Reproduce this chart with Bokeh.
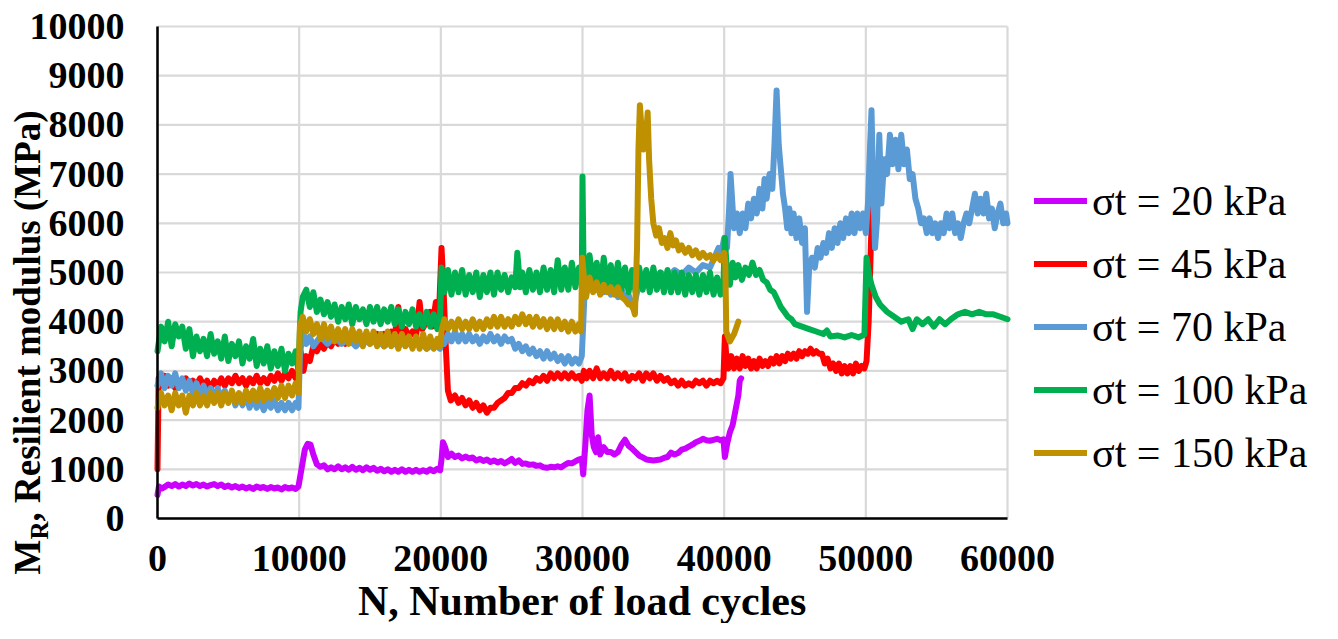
import math
from bokeh.plotting import figure
from bokeh.models import Range1d, FixedTicker, Label, Legend, LegendItem
from bokeh.embed import file_html
from bokeh.resources import INLINE

# ---------------- data: (N, MR in MPa) ----------------
SERIES_LABELS = ["σt = 20 kPa", "σt = 45 kPa", "σt = 70 kPa", "σt = 100 kPa", "σt = 150 kPa"]
SERIES_COLORS = ["#CC00FF", "#FF0000", "#5B9BD5", "#00B050", "#BF9000"]

X_TICKS = [0, 10000, 20000, 30000, 40000, 50000, 60000]
Y_TICKS = [0, 1000, 2000, 3000, 4000, 5000, 6000, 7000, 8000, 9000, 10000]

S20 = [(0,480),(100,650),(300,610),(500,640),(750,690),(1000,660),(1250,700),(1500,650),(1750,690),(2000,660),
       (2250,710),(2500,670),(2750,700),(3000,660),(3250,690),(3500,650),(3750,680),(4000,700),(4250,660),
       (4500,690),(4750,640),(5000,670),(5250,630),(5500,660),(5750,620),(6000,650),(6250,610),(6500,640),
       (6750,600),(7000,650),(7250,620),(7500,640),(7750,600),(8000,640),(8250,610),(8500,630),(8750,590),
       (9000,640),(9250,610),(9500,630),(9750,600),(9950,650),(10100,900),(10400,1400),(10600,1520),(10800,1500),
       (11000,1300),(11250,1100),(11500,1050),(11750,1080),(12000,1000),(12250,1040),(12500,1000),(12750,1060),
       (13000,1000),(13250,1040),(13500,990),(13750,1050),(14000,990),(14250,1030),(14500,980),(14750,1040),
       (15000,990),(15250,1030),(15500,970),(15750,1010),(16000,960),(16250,1000),(16500,950),(16750,990),
       (17000,950),(17250,1000),(17500,950),(17750,990),(18000,950),(18250,990),(18500,950),(18750,980),
       (19000,950),(19250,1000),(19500,960),(19750,1010),(19950,980),(20050,1200),(20150,1550),(20300,1450),
       (20500,1250),(20750,1320),(21000,1250),(21250,1280),(21500,1220),(21750,1260),(22000,1220),(22250,1240),
       (22500,1180),(22750,1210),(23000,1170),(23250,1200),(23500,1150),(23750,1180),(24000,1140),(24250,1170),
       (24500,1120),(24750,1160),(25000,1210),(25250,1130),(25500,1180),(25750,1110),(26000,1120),(26250,1090),
       (26500,1100),(26750,1070),(27000,1080),(27250,1040),(27500,1030),(27750,1050),(28000,1040),(28250,1060),
       (28500,1040),(28750,1090),(29000,1130),(29250,1120),(29500,1160),(29750,1200),(29950,1220),(30050,900),
       (30200,1500),(30350,2200),(30500,2500),(30650,1700),(30800,1450),(30950,1350),(31100,1650),(31250,1300),
       (31500,1450),(31750,1350),(32000,1350),(32250,1300),(32500,1350),(32750,1500),(33000,1600),(33250,1480),
       (33500,1420),(33750,1350),(34000,1280),(34250,1240),(34500,1200),(34750,1190),(35000,1180),(35250,1190),
       (35500,1200),(35750,1230),(36000,1250),(36250,1340),(36500,1300),(36750,1330),(37000,1400),(37250,1420),
       (37500,1460),(37750,1500),(38000,1550),(38250,1580),(38500,1620),(38750,1590),(39000,1580),(39250,1600),
       (39500,1620),(39750,1590),(39950,1610),(40050,1250),(40200,1500),(40400,1750),(40600,1900),(40800,2200),
       (41000,2500),(41100,2800),(41200,2850)]

S45 = [(0,1000),(80,2850),(250,2700),(500,2900),(750,2700),(1000,2850),(1250,2650),(1500,2800),(1750,2700),
       (2000,2850),(2250,2650),(2500,2800),(2750,2700),(3000,2850),(3250,2700),(3500,2800),(3750,2650),(4000,2800),
       (4250,2700),(4500,2850),(4750,2700),(5000,2850),(5250,2750),(5500,2900),(5750,2750),(6000,2850),(6250,2700),
       (6500,2850),(6750,2750),(7000,2900),(7250,2750),(7500,2850),(7750,2750),(8000,2900),(8250,2800),(8500,2950),
       (8750,2800),(9000,2950),(9250,2850),(9500,3000),(9750,2850),(9950,3000),(10100,3400),(10300,3000),
       (10500,3300),(10750,3200),(11000,3500),(11250,3400),(11500,3550),(11750,3450),(12000,3600),(12250,3500),
       (12500,3650),(12750,3550),(13000,3650),(13250,3550),(13500,3700),(13750,3600),(14000,3700),(14250,3600),
       (14500,3700),(14750,3600),(15000,3700),(15250,3650),(15500,3750),(15750,3650),(16000,3750),(16250,3650),
       (16500,3800),(16750,3700),(17000,4300),(17200,3750),(17500,3850),(17750,3700),(18000,3800),(18250,3700),
       (18500,4400),(18700,3850),(19000,4000),(19250,4200),(19400,3900),(19650,4400),(19850,4000),(20050,5500),
       (20200,4600),(20350,3500),(20500,2600),(20700,2400),(21000,2500),(21250,2350),(21500,2450),(21750,2300),
       (22000,2400),(22250,2250),(22500,2350),(22750,2200),(23000,2300),(23250,2150),(23500,2250),(23750,2250),
       (24000,2350),(24250,2400),(24500,2450),(24750,2550),(25000,2550),(25250,2650),(25500,2650),(25750,2750),
       (26000,2700),(26250,2800),(26500,2750),(26750,2850),(27000,2800),(27250,2900),(27500,2800),(27750,2950),
       (28000,2850),(28250,2950),(28500,2850),(28750,2950),(29000,2850),(29250,2950),(29500,2850),(29750,2900),
       (29950,2800),(30100,3000),(30300,2850),(30500,3000),(30750,2850),(31000,3050),(31250,2850),(31500,2950),
       (31750,2850),(32000,3000),(32250,2850),(32500,2950),(32750,2850),(33000,2950),(33250,2800),(33500,2900),
       (33750,2850),(34000,2950),(34250,2800),(34500,2950),(34750,2850),(35000,2950),(35250,2800),(35500,2900),
       (35750,2800),(36000,2850),(36250,2750),(36500,2800),(36750,2700),(37000,2800),(37250,2700),(37500,2750),
       (37750,2700),(38000,2800),(38250,2750),(38500,2800),(38750,2700),(39000,2800),(39250,2750),(39500,2800),
       (39750,2750),(39950,2850),(40050,3700),(40150,3300),(40300,3050),(40500,3300),(40700,3050),(40900,3250),
       (41100,3050),(41300,3300),(41500,3100),(41700,3250),(41900,3050),(42100,3200),(42300,3050),(42500,3250),
       (42700,3100),(42900,3200),(43100,3100),(43300,3250),(43500,3150),(43700,3300),(43900,3150),(44100,3300),
       (44300,3200),(44500,3350),(44700,3250),(44900,3350),(45100,3250),(45300,3400),(45500,3300),(45700,3400),
       (45900,3350),(46100,3450),(46300,3350),(46500,3400),(46700,3350),(46900,3350),(47100,3150),(47300,3250),
       (47500,3050),(47700,3150),(47900,3000),(48100,3150),(48300,2950),(48500,3100),(48700,2950),(48900,3100),
       (49100,2950),(49300,3150),(49500,3000),(49700,3100),(49900,3050),(50050,3200),(50200,4000),(50350,5500),
       (50450,6300),(50550,5800),(50650,7200)]

S70 = [(0,2700),(250,2950),(500,2650),(750,2900),(1000,2700),(1250,2950),(1500,2650),(1750,2850),(2000,2600),
       (2250,2800),(2500,2550),(2750,2750),(3000,2500),(3250,2700),(3500,2500),(3750,2650),(4000,2450),(4250,2650),
       (4500,2400),(4750,2600),(5000,2400),(5250,2550),(5500,2300),(5750,2500),(6000,2300),(6250,2500),(6500,2250),
       (6750,2450),(7000,2250),(7250,2400),(7500,2200),(7750,2400),(8000,2250),(8250,2400),(8500,2200),(8750,2350),
       (9000,2200),(9250,2350),(9500,2200),(9750,2350),(9950,2250),(10050,3300),(10250,3800),(10500,3550),
       (10750,3700),(11000,3500),(11500,3700),(12000,3550),(12500,3700),(13000,3550),(13500,3650),(14000,3500),
       (14500,3650),(15000,3550),(15500,3650),(16000,3500),(16500,3600),(17000,3500),(17500,3600),(18000,3500),
       (18500,3600),(19000,3450),(19500,3550),(19950,3450),(20050,3700),(20250,3550),(20500,3750),(20750,3600),
       (21000,3800),(21250,3600),(21500,3750),(21750,3600),(22000,3750),(22250,3600),(22500,3700),(22750,3550),
       (23000,3700),(23250,3600),(23500,3750),(23750,3600),(24000,3700),(24250,3550),(24500,3700),(24750,3600),
       (25000,3650),(25250,3450),(25500,3550),(25750,3400),(26000,3500),(26250,3350),(26500,3450),(26750,3300),
       (27000,3400),(27250,3250),(27500,3400),(27750,3250),(28000,3350),(28250,3200),(28500,3300),(28750,3150),
       (29000,3300),(29250,3150),(29500,3250),(29750,3150),(29950,3300),(30150,4600),(30300,4900),(30500,4700),
       (30750,4850),(31000,4650),(31250,4800),(31500,4600),(31750,4750),(32000,4550),(32250,4700),(32500,4500),
       (32750,4650),(33000,4450),(33250,4550),(33500,4300),(33700,4400),(34000,4800),(34500,5000),(35000,4850),
       (35500,5000),(36000,4900),(36500,5050),(37000,4950),(37500,5100),(38000,5000),(38500,5150),(39000,5100),
       (39300,5300),(39600,5500),(39800,5400),(40000,5700),(40200,5500),(40350,6300),(40450,7000),(40600,6300),
       (40700,5900),(40900,6200),(41100,5800),(41300,6200),(41500,5900),(41700,6400),(41900,6100),(42100,6500),
       (42300,6200),(42500,6700),(42700,6300),(42850,6900),(43000,6500),(43200,7000),(43400,6700),(43550,7600),
       (43700,8700),(43850,7600),(44000,7100),(44150,6600),(44300,6300),(44450,5900),(44600,6300),(44750,5800),
       (44900,6200),(45100,5700),(45300,6100),(45500,5600),(45700,5900),(45850,4200),(46000,5100),(46200,5300),
       (46400,5100),(46600,5500),(46800,5300),(47000,5600),(47200,5400),(47400,5800),(47600,5500),(47800,5900),
       (48000,5600),(48200,6000),(48400,5700),(48600,6100),(48800,5800),(49000,6200),(49200,5800),(49400,6200),
       (49600,5900),(49800,6200),(50000,5800),(50150,6400),(50300,7600),(50400,8300),(50500,7000),(50650,5500),
       (50800,6100),(50950,7800),(51100,6400),(51300,7300),(51500,7000),(51700,7800),(51900,7200),(52100,7700),
       (52300,7100),(52500,7800),(52700,7200),(52900,7500),(53100,6900),(53300,7000),(53500,6500),(53700,6300),
       (53900,6000),(54100,6100),(54300,5800),(54500,6100),(54700,5800),(54900,6000),(55100,5700),(55300,6000),
       (55500,5800),(55700,6200),(55900,5900),(56100,6200),(56300,5800),(56500,6000),(56700,5700),(56900,6000),
       (57100,6200),(57300,6000),(57500,6300),(57700,6600),(57900,6200),(58100,6500),(58300,6200),(58500,6600),
       (58700,6100),(58900,6300),(59100,5900),(59300,6200),(59500,6400),(59700,6000),(59900,6200),(60000,6000)]

S100 = [(0,3400),(250,3900),(500,3600),(750,4000),(1000,3500),(1250,3950),(1500,3700),(1750,3900),(2000,3450),
        (2250,3850),(2500,3300),(2750,3700),(3000,3400),(3250,3650),(3500,3300),(3750,3750),(4000,3350),(4250,3600),
        (4500,3250),(4750,3700),(5000,3200),(5250,3550),(5500,3300),(5750,3600),(6000,3150),(6250,3500),(6500,3250),
        (6750,3650),(7000,3100),(7250,3450),(7500,3150),(7750,3500),(8000,3050),(8250,3400),(8500,3100),(8750,3450),
        (9000,3000),(9250,3350),(9500,3150),(9750,3400),(9950,3000),(10100,4200),(10250,4500),(10500,4650),
        (10750,4300),(11000,4600),(11250,4200),(11500,4450),(11750,4150),(12000,4400),(12250,4100),(12500,4350),
        (12750,4000),(13000,4300),(13250,4050),(13500,4350),(13750,3950),(14000,4300),(14250,4050),(14500,4250),
        (14750,3950),(15000,4300),(15250,4000),(15500,4300),(15750,3950),(16000,4250),(16250,4000),(16500,4300),
        (16750,3950),(17000,4250),(17250,3900),(17500,4200),(17750,3950),(18000,4250),(18250,3900),(18500,4150),
        (18750,3900),(19000,4200),(19250,3900),(19500,4150),(19750,3850),(19950,4100),(20050,5100),(20250,4600),
        (20500,5050),(20750,4550),(21000,5000),(21250,4600),(21500,5050),(21750,4550),(22000,4950),(22250,4600),
        (22500,5000),(22750,4500),(23000,4950),(23250,4600),(23500,5000),(23750,4550),(24000,5000),(24250,4650),
        (24500,4950),(24750,4600),(25000,4900),(25250,4700),(25400,5400),(25600,4700),(25750,5000),(26000,4600),
        (26250,5050),(26500,4650),(26750,5000),(27000,4600),(27250,5100),(27500,4650),(27750,5050),(28000,4600),
        (28250,5250),(28500,4650),(28750,5100),(29000,4650),(29250,5200),(29500,4700),(29750,5100),(29950,4800),
        (30000,6950),(30080,5000),(30250,4600),(30500,5350),(30750,4700),(31000,5200),(31250,4650),(31500,5300),
        (31750,4700),(32000,5150),(32250,4650),(32500,5200),(32750,4650),(33000,5100),(33250,4600),(33500,5050),
        (33750,4600),(34000,5100),(34250,4650),(34500,5050),(34750,4600),(35000,5100),(35250,4650),(35500,5000),
        (35750,4600),(36000,5050),(36250,4600),(36500,5000),(36750,4600),(37000,5000),(37250,4550),(37500,4950),
        (37750,4600),(38000,4950),(38250,4550),(38500,4950),(38750,4600),(39000,5000),(39250,4550),(39500,4900),
        (39750,4550),(39950,4800),(40050,5700),(40200,5000),(40400,4750),(40600,5200),(40800,4900),(41000,5150),
        (41250,4850),(41500,5100),(41750,4950),(42000,5200),(42250,4950),(42500,5050),(42750,4850),(43000,4800),
        (43250,4650),(43500,4600),(43750,4450),(44000,4300),(44250,4200),(44500,4100),(44750,4050),(45000,3950),
        (45500,3900),(46000,3850),(46500,3800),(47000,3750),(47250,3820),(47500,3700),(48000,3720),(48500,3680),
        (49000,3730),(49500,3680),(49900,3740),(50050,5300),(50200,5000),(50400,4750),(50700,4500),(51000,4350),
        (51500,4200),(52000,4100),(52500,4000),(53000,4050),(53300,3850),(53600,4050),(54000,3950),(54400,4050),
        (54800,3900),(55200,4050),(55600,3950),(56000,4050),(56500,4150),(57000,4200),(57500,4150),(58000,4200),
        (58500,4150),(59000,4150),(59500,4100),(60000,4050)]

S150 = [(0,2250),(250,2550),(500,2300),(750,2500),(1000,2200),(1250,2550),(1500,2300),(1750,2500),(2000,2150),
        (2250,2500),(2500,2300),(2750,2550),(3000,2300),(3250,2500),(3500,2300),(3750,2550),(4000,2350),(4250,2550),
        (4500,2300),(4750,2550),(5000,2350),(5250,2600),(5500,2350),(5750,2550),(6000,2350),(6250,2600),(6500,2400),
        (6750,2600),(7000,2400),(7250,2650),(7500,2400),(7750,2600),(8000,2450),(8250,2650),(8500,2450),(8750,2700),
        (9000,2450),(9250,2700),(9500,2500),(9750,2750),(9950,2550),(10050,3900),(10250,4100),(10500,3800),
        (10750,4050),(11000,3750),(11250,3950),(11500,3650),(11750,3950),(12000,3650),(12250,3900),(12500,3600),
        (12750,3850),(13000,3600),(13250,3850),(13500,3550),(13750,3850),(14000,3600),(14250,3800),(14500,3500),
        (14750,3800),(15000,3550),(15250,3800),(15500,3500),(15750,3750),(16000,3500),(16250,3800),(16500,3500),
        (16750,3750),(17000,3450),(17250,3750),(17500,3500),(17750,3700),(18000,3450),(18250,3700),(18500,3450),
        (18750,3750),(19000,3450),(19250,3700),(19500,3450),(19750,3650),(19950,3500),(20050,3800),(20250,4050),
        (20500,3850),(20750,4000),(21000,3850),(21250,4050),(21500,3850),(21750,4000),(22000,3850),(22250,4050),
        (22500,3850),(22750,4000),(23000,3850),(23250,4050),(23500,3900),(23750,4100),(24000,3900),(24250,4100),
        (24500,3900),(24750,4050),(25000,3900),(25250,4100),(25500,3950),(25750,4150),(26000,3950),(26250,4100),
        (26500,3900),(26750,4100),(27000,3900),(27250,4050),(27500,3850),(27750,4050),(28000,3850),(28250,4050),
        (28500,3850),(28750,4000),(29000,3800),(29250,4000),(29500,3800),(29750,3950),(29900,3800),(29980,5300),
        (30100,4900),(30250,4500),(30500,4900),(30750,4600),(31000,4800),(31250,4550),(31500,4750),(31750,4600),
        (32000,4700),(32250,4550),(32500,4700),(32750,4500),(33000,4450),(33250,4350),(33500,4350),(33700,4150),
        (33850,5500),(33950,7500),(34050,8400),(34200,7800),(34300,7500),(34450,7600),(34600,8250),(34700,7300),
        (34850,6500),(35000,6000),(35200,5750),(35400,5900),(35600,5600),(35800,5700),(36000,5500),(36200,5800),
        (36400,5550),(36600,5650),(36800,5450),(37000,5550),(37250,5400),(37500,5500),(37750,5350),(38000,5450),
        (38250,5300),(38500,5400),(38750,5300),(39000,5350),(39250,5250),(39500,5350),(39750,5250),(40000,5400),
        (40080,5200),(40150,3800),(40400,3600),(40700,3750),(41000,4000)]

ALL_SERIES = [S20, S45, S70, S100, S150]

# ---------------- figure: the frame spans the whole canvas, the axes sit at 0 ----------------
W, H = 1322, 623
FL, FR, FT, FB = 157, 1007, 26, 518          # pixel box of the 0..60000 x 0..10000 area
XMAX, YMAX = 60000, 10000
px_x = XMAX / (FR - FL)
px_y = YMAX / (FB - FT)
x_range = Range1d(-FL * px_x, (W - FL) * px_x)
y_range = Range1d(-(H - FB) * px_y, FB * px_y)

def dx(px):   # canvas pixel column -> data x (for text placement only)
    return (px - FL) * px_x

def dy(py):   # canvas pixel row -> data y (for text placement only)
    return (FB - py) * px_y

SERIF = "Liberation Serif"
p = figure(width=W, height=H, output_backend="svg", toolbar_location=None,
           x_range=x_range, y_range=y_range,
           min_border_left=0, min_border_right=0, min_border_top=0, min_border_bottom=0)
p.background_fill_color = "white"
p.border_fill_color = "white"
p.outline_line_color = None
p.xgrid.visible = False
p.ygrid.visible = False

# grid lines of the plot area (through the data scales)
p.segment(x0=X_TICKS, y0=[0] * len(X_TICKS), x1=X_TICKS, y1=[YMAX] * len(X_TICKS),
          line_color="#D9D9D9", line_width=2.2)
p.segment(x0=[0] * len(Y_TICKS), y0=Y_TICKS, x1=[XMAX] * len(Y_TICKS), y1=Y_TICKS,
          line_color="#D9D9D9", line_width=2.2)

p.xaxis.fixed_location = 0
p.yaxis.fixed_location = 0
p.xaxis.bounds = (0, XMAX)
p.yaxis.bounds = (0, YMAX)
p.xaxis.ticker = FixedTicker(ticks=X_TICKS)
p.yaxis.ticker = FixedTicker(ticks=Y_TICKS)
for ax in (p.xaxis, p.yaxis):
    ax.axis_line_color = "black"
    ax.axis_line_width = 2.5
    ax.major_tick_line_color = None
    ax.minor_tick_line_color = None
    ax.major_tick_out = 0
    ax.major_tick_in = 0
    ax.major_label_text_font = SERIF
    ax.major_label_text_font_style = "bold"
    ax.major_label_text_font_size = "38px"
    ax.major_label_text_color = "black"
p.yaxis.major_label_standoff = 33
p.xaxis.major_label_standoff = 27

renderers = []
for pts, col in zip(ALL_SERIES, SERIES_COLORS):
    xs = [a for a, b in pts]
    ys = [b for a, b in pts]
    r = p.line(xs, ys, line_color=col, line_width=6, line_join="round", line_cap="round")
    renderers.append(r)

legend = Legend(items=[LegendItem(label=l, renderers=[r]) for l, r in zip(SERIES_LABELS, renderers)],
                location=(1034, 146), padding=0, margin=0, spacing=14,
                glyph_width=53, glyph_height=49, label_height=49, label_standoff=5,
                label_text_font=SERIF, label_text_font_size="42px", label_text_color="black",
                border_line_alpha=0, background_fill_alpha=0)
p.add_layout(legend, "center")

# axis titles
p.add_layout(Label(x=dx(582), y=dy(600), text="N, Number of load cycles", text_align="center",
                   text_baseline="alphabetic", text_font=SERIF, text_font_style="bold",
                   text_font_size="42px", text_color="black"))
ang = math.pi / 2
p.add_layout(Label(x=dx(27), y=dy(574), text="M", angle=ang, text_align="left", text_baseline="alphabetic",
                   text_font=SERIF, text_font_style="bold", text_font_size="37px", text_color="black"))
p.add_layout(Label(x=dx(39), y=dy(539), text="R", angle=ang, text_align="left", text_baseline="alphabetic",
                   text_font=SERIF, text_font_style="bold", text_font_size="25px", text_color="black"))
p.add_layout(Label(x=dx(27), y=dy(521), text=", Resilient modulus (MPa)", angle=ang, text_align="left",
                   text_baseline="alphabetic", text_font=SERIF, text_font_style="bold",
                   text_font_size="37px", text_color="black"))

open("out.html", "w").write(file_html(p, INLINE))
